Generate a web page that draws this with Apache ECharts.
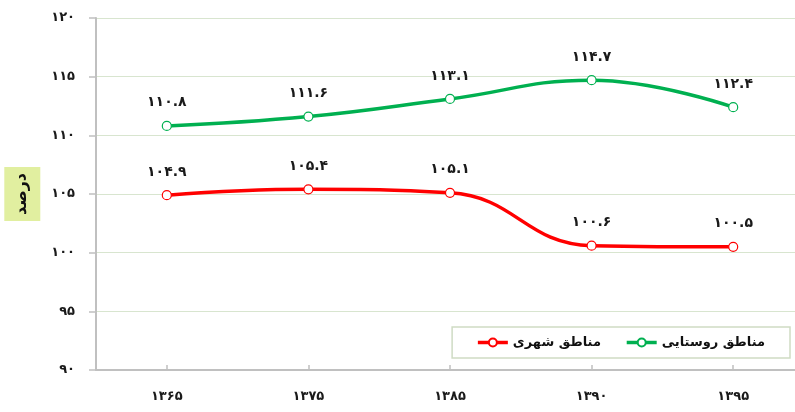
<!DOCTYPE html>
<html>
<head>
<meta charset="utf-8">
<script src="https://cdn.jsdelivr.net/npm/echarts@6/dist/echarts.min.js"></script>
<style>html,body{margin:0;padding:0;background:#fff}#c{width:795px;height:412px}</style>
</head>
<body>
<div id="c"></div>
<script>
const categories = ['1365', '1375', '1385', '1390', '1395'];
const ruralName = 'مناطق روستایی';
const urbanName = 'مناطق شهری';
const ruralValues = [110.8, 111.6, 113.1, 114.7, 112.4];
const urbanValues = [104.9, 105.4, 105.1, 100.6, 100.5];
const yTicks = { min: 90, max: 120, interval: 5 };
const yAxisTitle = 'درصد';

const fa = s => String(s).replace(/[0-9]/g, d => '۰۱۲۳۴۵۶۷۸۹'[+d]);
const FONT = '"DejaVu Sans", sans-serif';

const chart = echarts.init(document.getElementById('c'));
function seriesOf(name, data, color) {
  return {
    name, type: 'line', data, smooth: 0.45,
    symbol: 'circle', symbolSize: 9,
    lineStyle: { color, width: 3.5 },
    itemStyle: { color: '#fff', borderColor: color, borderWidth: 1.2 },
    label: {
      show: true, position: 'top', distance: 11,
      fontFamily: FONT, fontWeight: 'bold', fontSize: 14, color: '#1a1a1a',
      formatter: p => fa(p.value.toFixed(1))
    },
    emphasis: { disabled: true }
  };
}
chart.setOption({
  animation: false,
  grid: { left: 96, top: 18, bottom: 42, width: 708, outerBoundsMode: 'none', containLabel: false },
  legend: {
    data: [
      { name: urbanName, itemStyle: { color: '#fff', borderColor: '#FF0000' }, lineStyle: { color: '#FF0000', width: 3.5 } },
      { name: ruralName, itemStyle: { color: '#fff', borderColor: '#00B050' }, lineStyle: { color: '#00B050', width: 3.5 } }
    ],
    right: 5, top: 327, align: 'left',
    padding: [9, 25, 9, 24], itemGap: 24, itemWidth: 30, itemHeight: 10,
    borderColor: '#CFDCC4', borderWidth: 1.5, backgroundColor: '#fff',
    textStyle: { fontFamily: FONT, fontWeight: 'bold', fontSize: 13, color: '#111' }
  },
  xAxis: {
    type: 'category', data: categories, boundaryGap: true,
    axisLine: { lineStyle: { color: '#C0C0C0', width: 2 } },
    axisTick: { show: true, inside: true, alignWithLabel: true, length: 5, lineStyle: { color: '#C0C0C0', width: 1.5 } },
    axisLabel: { margin: 20, fontFamily: FONT, fontWeight: 'bold', fontSize: 13, color: '#1a1a1a', formatter: v => fa(v) }
  },
  yAxis: {
    type: 'value', min: yTicks.min, max: yTicks.max, interval: yTicks.interval,
    name: yAxisTitle, nameLocation: 'middle', nameGap: 48, nameRotate: 90,
    nameTextStyle: {
      fontFamily: FONT, fontWeight: 'bold', fontSize: 16, color: '#111',
      backgroundColor: '#E1EFA0', padding: [10, 6]
    },
    axisLine: { show: true, lineStyle: { color: '#C0C0C0', width: 2 } },
    axisTick: { show: true, length: 7, lineStyle: { color: '#C0C0C0', width: 1.5 } },
    splitLine: { lineStyle: { color: '#D8E5CF', width: 1 } },
    axisLabel: { margin: 21, fontFamily: FONT, fontWeight: 'bold', fontSize: 13, color: '#1a1a1a', formatter: v => fa(v) }
  },
  series: [
    seriesOf(ruralName, ruralValues, '#00B050'),
    seriesOf(urbanName, urbanValues, '#FF0000')
  ]
});
</script>
</body>
</html>
